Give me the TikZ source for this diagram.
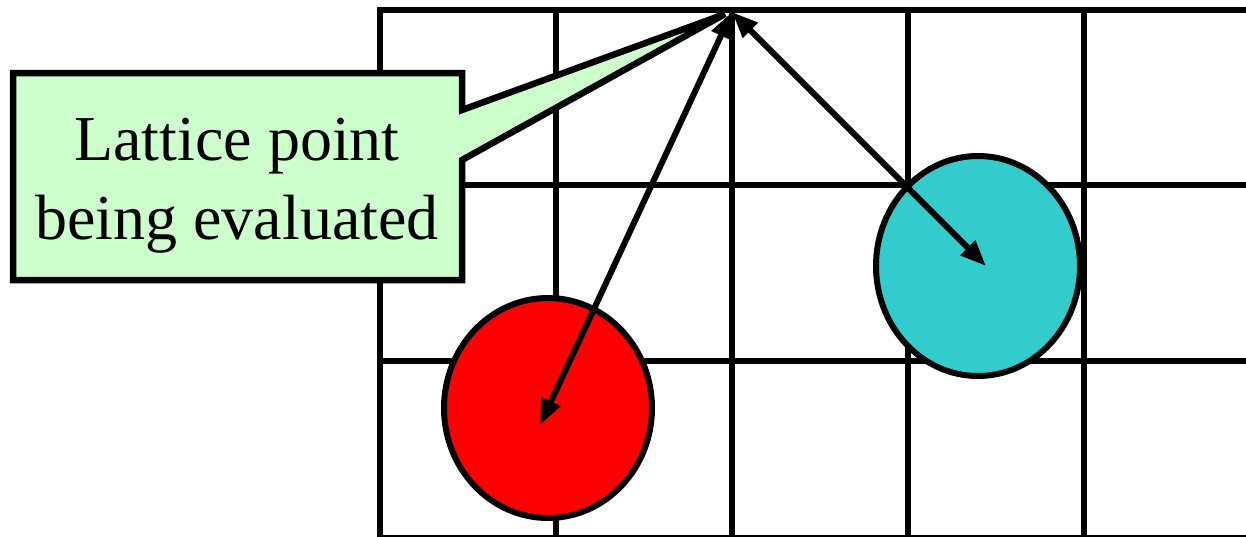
\documentclass[tikz,border=0pt]{standalone}
\usepackage{fontspec}
\setmainfont{Liberation Serif}
\usetikzlibrary{arrows.meta,shapes.geometric}
\definecolor{callgreen}{HTML}{CCFFCC}
\definecolor{ballcyan}{HTML}{33CCCC}
\definecolor{ballred}{HTML}{FF0000}
\begin{document}
\begin{tikzpicture}[x=1pt,y=-1pt,
  gridline/.style={line width=6pt},
  ball/.style={draw=black,line width=6pt,ellipse,inner sep=0pt,outer sep=0pt},
  callout/.style={draw=black,fill=callgreen,line width=6.5pt,line join=miter},
  dblarrow/.style={line width=6pt,{Triangle[length=26pt,width=20pt]}-{Triangle[length=26pt,width=20pt]}},
  labeltext/.style={font=\fontsize{64}{79}\selectfont,align=center,inner sep=0pt}]
\useasboundingbox (0,0) rectangle (1246,536);
% grid
\foreach \x in {380,556,732,908,1084}
  \draw[gridline] (\x,10) -- (\x,540);
\foreach \y in {10,185,361,538}
  \draw[gridline] (377,\y) -- (1250,\y);
% balls
\node[ball,fill=ballred,minimum width=208pt,minimum height=220pt] (redball) at (548,408) {};
\node[ball,fill=ballcyan,minimum width=204pt,minimum height=220pt] (cyanball) at (978,266) {};
% callout
\draw[callout] (13,73) -- (462,73) -- (462,110) -- (725,14) -- (462,160) -- (462,280) -- (13,280) -- cycle;
\node[labeltext] (label) at (237,186) {Lattice point\\being evaluated};
% points
\coordinate (lp) at (732,12);
\coordinate (redc) at (540,425);
\coordinate (cyanc) at (986,266);
\draw[dblarrow] (lp) -- (redc);
\draw[dblarrow] (lp) -- (cyanc);
\end{tikzpicture}
\end{document}
